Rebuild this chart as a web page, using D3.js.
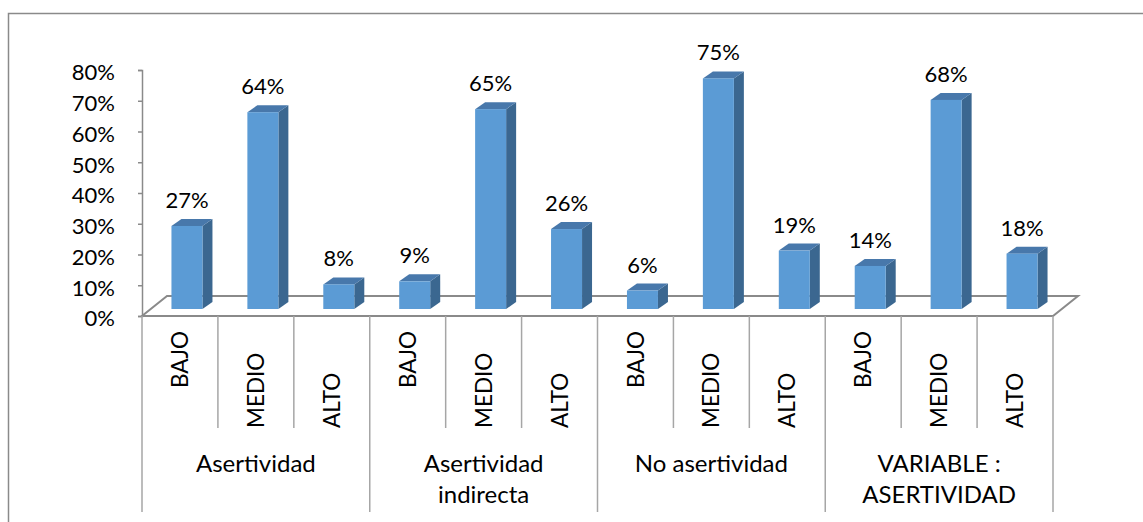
<!DOCTYPE html>
<html><head><meta charset="utf-8">
<script src="https://cdn.jsdelivr.net/npm/d3@7"></script>
<style>
html,body{margin:0;padding:0;background:#fff;}
svg text{font-family:Lato,"Open Sans",sans-serif;fill:#000;}
</style></head>
<body><svg id="c" width="1143" height="522"></svg>
<script>
const groups = ["Asertividad", "Asertividad\nindirecta", "No asertividad", "VARIABLE :\nASERTIVIDAD"];
const levels = ["BAJO", "MEDIO", "ALTO"];
const values = [
  [0.27, 0.64, 0.08],
  [0.09, 0.65, 0.26],
  [0.06, 0.75, 0.19],
  [0.14, 0.68, 0.18]
];
const yTicks = [0, 0.1, 0.2, 0.3, 0.4, 0.5, 0.6, 0.7, 0.8];

const svg = d3.select("#c");
const gray = "#8a8a8a";

// chart frame
svg.append("rect").attr("x", 8.5).attr("y", 13.5).attr("width", 1300).attr("height", 700)
  .attr("fill", "none").attr("stroke", gray).attr("stroke-width", 1.5);

const x0 = 142, x1 = 1053, yBase = 316, yTop = 70;
const depthX = 25, depthY = -20;
const data = [];
groups.forEach((g, gi) => levels.forEach((l, li) => data.push({g, gi, l, li, v: values[gi][li], i: gi * 3 + li})));

const xs = d3.scaleBand().domain(d3.range(data.length)).range([x0, x1]);
const xg = d3.scaleBand().domain(d3.range(groups.length)).range([x0, x1]);
const y = d3.scaleLinear().domain([0, 0.8]).range([yBase, yTop]);

// floor
svg.append("path")
  .attr("d", `M${x0},${yBase} L${x1},${yBase} L${x1 + depthX},${yBase + depthY} L${x0 + depthX},${yBase + depthY} Z`)
  .attr("fill", "#fff").attr("stroke", gray).attr("stroke-width", 2);

// y axis
const ax = svg.append("g").attr("transform", `translate(${x0},0)`)
  .call(d3.axisLeft(y).tickValues(yTicks).tickFormat(d3.format(".0%")).tickSize(4).tickPadding(23));
ax.select(".domain").attr("stroke", gray).attr("stroke-width", 1.5);
ax.selectAll(".tick line").attr("stroke", gray).attr("stroke-width", 1.5);
ax.selectAll(".tick text").attr("font-size", 22).attr("font-family", "Lato").attr("dy", "0.45em").attr("fill", "#000");

// bars
const bw = 31, sd = 10, sdy = -7, off = 7;
const bars = svg.append("g");
data.forEach(d => {
  const cx = xs(d.i) + xs.bandwidth() / 2 + off;
  const xl = cx - bw / 2, xr = cx + bw / 2;
  const yb = yBase - off, yt = y(d.v) - off;
  const g = bars.append("g");
  g.append("path").attr("d", `M${xr},${yb} L${xr + sd},${yb + sdy} L${xr + sd},${yt + sdy} L${xr},${yt} Z`).attr("fill", "#3b6790");
  g.append("path").attr("d", `M${xl},${yt} L${xr},${yt} L${xr + sd},${yt + sdy} L${xl + sd},${yt + sdy} Z`).attr("fill", "#4878ab");
  g.append("rect").attr("x", xl).attr("y", yt).attr("width", bw).attr("height", yb - yt).attr("fill", "#5b9bd5");
  svg.append("text").attr("x", cx).attr("y", yt - 18).attr("text-anchor", "middle").attr("font-size", 22)
    .text(d3.format(".0%")(d.v));
});

// category separators
d3.range(data.length + 1).forEach(i => {
  const xx = i < data.length ? xs(i) : x1;
  const isGroup = i % 3 === 0;
  svg.append("line").attr("x1", xx).attr("x2", xx).attr("y1", yBase).attr("y2", isGroup ? 512 : 428)
    .attr("stroke", "#a6a6a6").attr("stroke-width", 1.5);
});

// level labels (rotated)
data.forEach(d => {
  const cx = xs(d.i) + xs.bandwidth() / 2;
  const yStart = d.l === "BAJO" ? 388 : 428;
  svg.append("text").attr("transform", `translate(${cx},${yStart}) rotate(-90)`)
    .attr("dy", "0.36em").attr("font-size", 22.5).text(d.l);
});

// group labels
groups.forEach((g, gi) => {
  const cx = xg(gi) + xg.bandwidth() / 2;
  const t = svg.append("text").attr("text-anchor", "middle").attr("font-size", 24);
  g.split("\n").forEach((line, k) => {
    t.append("tspan").attr("x", cx).attr("y", 472 + k * 31).text(line);
  });
});
</script></body></html>
